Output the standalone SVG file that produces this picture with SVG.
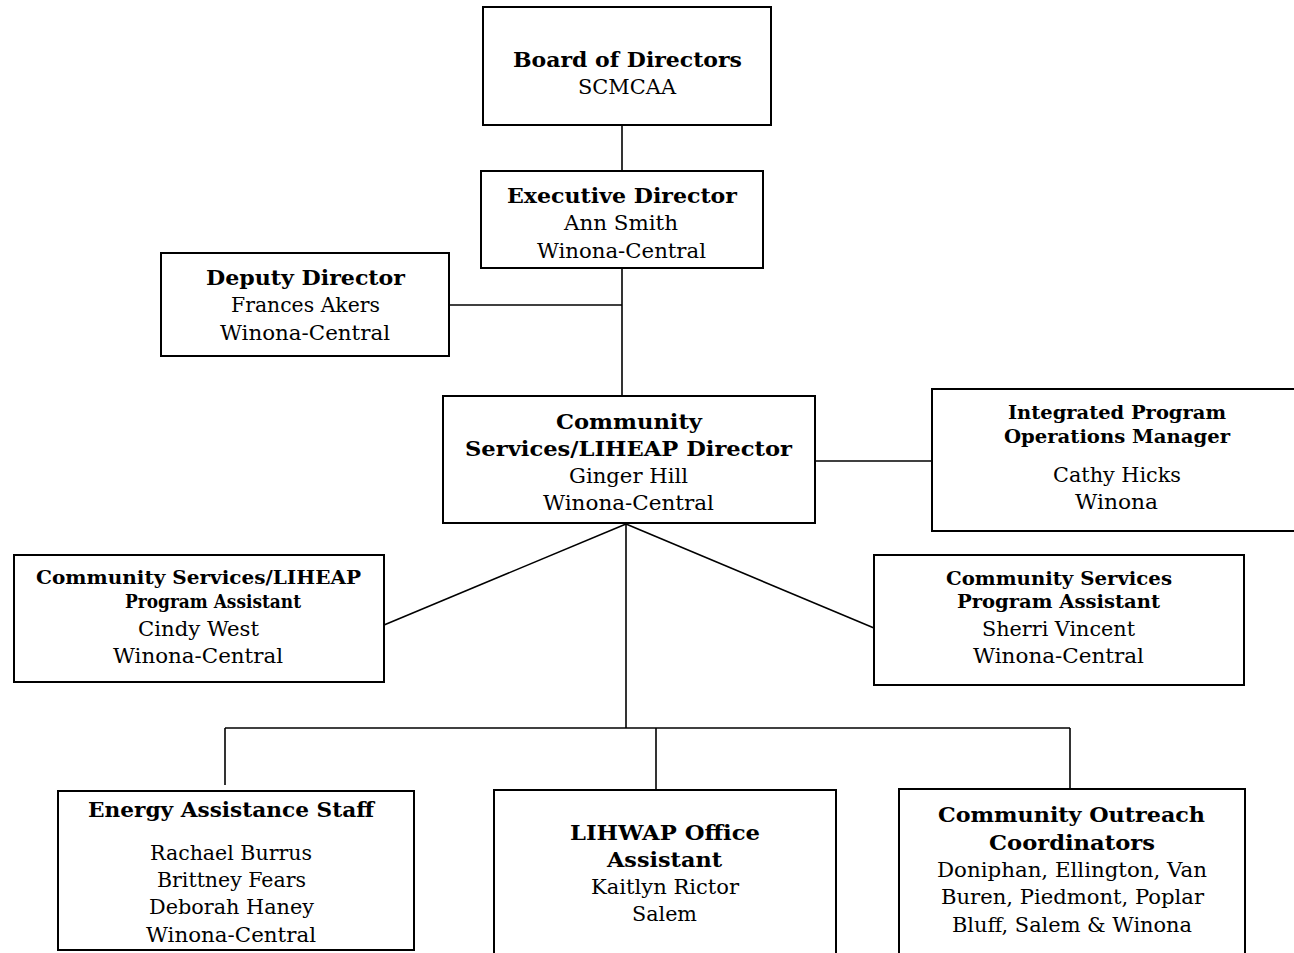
<svg xmlns="http://www.w3.org/2000/svg" width="1294" height="953" viewBox="0 0 1294 953">
<style>
.box{fill:#fff;stroke:#000;stroke-width:2}
.ln{stroke:#000;stroke-width:1.6;fill:none}
text{font-family:"DejaVu Serif","Liberation Serif",serif;fill:#000}
.b{font-weight:bold;font-size:21px}
.bs{font-weight:bold;font-size:19px}
.r{font-size:21px}
</style>
<rect width="1294" height="953" fill="#fff"/>
<g id="connectors">
<line class="ln" x1="622" y1="125" x2="622" y2="171"/>
<line class="ln" x1="622" y1="268" x2="622" y2="396"/>
<line class="ln" x1="449" y1="305" x2="622" y2="305"/>
<line class="ln" x1="815" y1="461" x2="932" y2="461"/>
<line class="ln" x1="626" y1="524" x2="384" y2="625"/>
<line class="ln" x1="626" y1="524" x2="874" y2="628"/>
<line class="ln" x1="626" y1="524" x2="626" y2="728"/>
<line class="ln" x1="225" y1="728" x2="1070" y2="728"/>
<line class="ln" x1="225" y1="728" x2="225" y2="785"/>
<line class="ln" x1="656" y1="728" x2="656" y2="790"/>
<line class="ln" x1="1070" y1="728" x2="1070" y2="789"/>
</g>
<g id="board">
<rect class="box" x="483" y="7" width="288" height="118"/>
<text class="b" x="513" y="67" textLength="229" lengthAdjust="spacingAndGlyphs">Board of Directors</text>
<text class="r" x="578" y="94" textLength="98" lengthAdjust="spacingAndGlyphs">SCMCAA</text>
</g>
<g id="executive">
<rect class="box" x="481" y="171" width="282" height="97"/>
<text class="b" x="507" y="203" textLength="230" lengthAdjust="spacingAndGlyphs">Executive Director</text>
<text class="r" x="564" y="230" textLength="114" lengthAdjust="spacingAndGlyphs">Ann Smith</text>
<text class="r" x="537" y="258" textLength="169" lengthAdjust="spacingAndGlyphs">Winona-Central</text>
</g>
<g id="deputy">
<rect class="box" x="161" y="253" width="288" height="103"/>
<text class="b" x="206" y="285" textLength="199" lengthAdjust="spacingAndGlyphs">Deputy Director</text>
<text class="r" x="231" y="312" textLength="149" lengthAdjust="spacingAndGlyphs">Frances Akers</text>
<text class="r" x="220" y="340" textLength="170" lengthAdjust="spacingAndGlyphs">Winona-Central</text>
</g>
<g id="cs-director">
<rect class="box" x="443" y="396" width="372" height="127"/>
<text class="b" x="556" y="429" textLength="146" lengthAdjust="spacingAndGlyphs">Community</text>
<text class="b" x="465" y="456" textLength="327" lengthAdjust="spacingAndGlyphs">Services/LIHEAP Director</text>
<text class="r" x="569" y="483" textLength="119" lengthAdjust="spacingAndGlyphs">Ginger Hill</text>
<text class="r" x="543" y="510" textLength="171" lengthAdjust="spacingAndGlyphs">Winona-Central</text>
</g>
<g id="ipo-manager">
<rect class="box" x="932" y="389" width="364" height="142"/>
<text class="bs" x="1008" y="419" textLength="218" lengthAdjust="spacingAndGlyphs">Integrated Program</text>
<text class="bs" x="1004" y="443" textLength="226" lengthAdjust="spacingAndGlyphs">Operations Manager</text>
<text class="r" x="1053" y="482" textLength="128" lengthAdjust="spacingAndGlyphs">Cathy Hicks</text>
<text class="r" x="1075" y="509" textLength="83" lengthAdjust="spacingAndGlyphs">Winona</text>
</g>
<g id="cs-liheap-assistant">
<rect class="box" x="14" y="555" width="370" height="127"/>
<text class="bs" x="36" y="584" textLength="325" lengthAdjust="spacingAndGlyphs">Community Services/LIHEAP</text>
<text class="bs" x="125" y="608" textLength="176" lengthAdjust="spacingAndGlyphs">Program Assistant</text>
<text class="r" x="138" y="636" textLength="121" lengthAdjust="spacingAndGlyphs">Cindy West</text>
<text class="r" x="113" y="663" textLength="170" lengthAdjust="spacingAndGlyphs">Winona-Central</text>
</g>
<g id="cs-assistant">
<rect class="box" x="874" y="555" width="370" height="130"/>
<text class="bs" x="946" y="585" textLength="226" lengthAdjust="spacingAndGlyphs">Community Services</text>
<text class="bs" x="957" y="608" textLength="203" lengthAdjust="spacingAndGlyphs">Program Assistant</text>
<text class="r" x="982" y="636" textLength="153" lengthAdjust="spacingAndGlyphs">Sherri Vincent</text>
<text class="r" x="973" y="663" textLength="171" lengthAdjust="spacingAndGlyphs">Winona-Central</text>
</g>
<g id="energy-staff">
<rect class="box" x="58" y="791" width="356" height="159"/>
<text class="b" x="88" y="817" textLength="286" lengthAdjust="spacingAndGlyphs">Energy Assistance Staff</text>
<text class="r" x="150" y="860" textLength="162" lengthAdjust="spacingAndGlyphs">Rachael Burrus</text>
<text class="r" x="157" y="887" textLength="149" lengthAdjust="spacingAndGlyphs">Brittney Fears</text>
<text class="r" x="149" y="914" textLength="165" lengthAdjust="spacingAndGlyphs">Deborah Haney</text>
<text class="r" x="146" y="942" textLength="170" lengthAdjust="spacingAndGlyphs">Winona-Central</text>
</g>
<g id="lihwap">
<rect class="box" x="494" y="790" width="342" height="170"/>
<text class="b" x="570" y="840" textLength="190" lengthAdjust="spacingAndGlyphs">LIHWAP Office</text>
<text class="b" x="607" y="867" textLength="115" lengthAdjust="spacingAndGlyphs">Assistant</text>
<text class="r" x="591" y="894" textLength="148" lengthAdjust="spacingAndGlyphs">Kaitlyn Rictor</text>
<text class="r" x="632" y="921" textLength="65" lengthAdjust="spacingAndGlyphs">Salem</text>
</g>
<g id="outreach">
<rect class="box" x="899" y="789" width="346" height="170"/>
<text class="b" x="938" y="822" textLength="267" lengthAdjust="spacingAndGlyphs">Community Outreach</text>
<text class="b" x="989" y="850" textLength="166" lengthAdjust="spacingAndGlyphs">Coordinators</text>
<text class="r" x="937" y="877" textLength="270" lengthAdjust="spacingAndGlyphs">Doniphan, Ellington, Van</text>
<text class="r" x="941" y="904" textLength="263" lengthAdjust="spacingAndGlyphs">Buren, Piedmont, Poplar</text>
<text class="r" x="952" y="932" textLength="240" lengthAdjust="spacingAndGlyphs">Bluff, Salem &amp; Winona</text>
</g>
</svg>
